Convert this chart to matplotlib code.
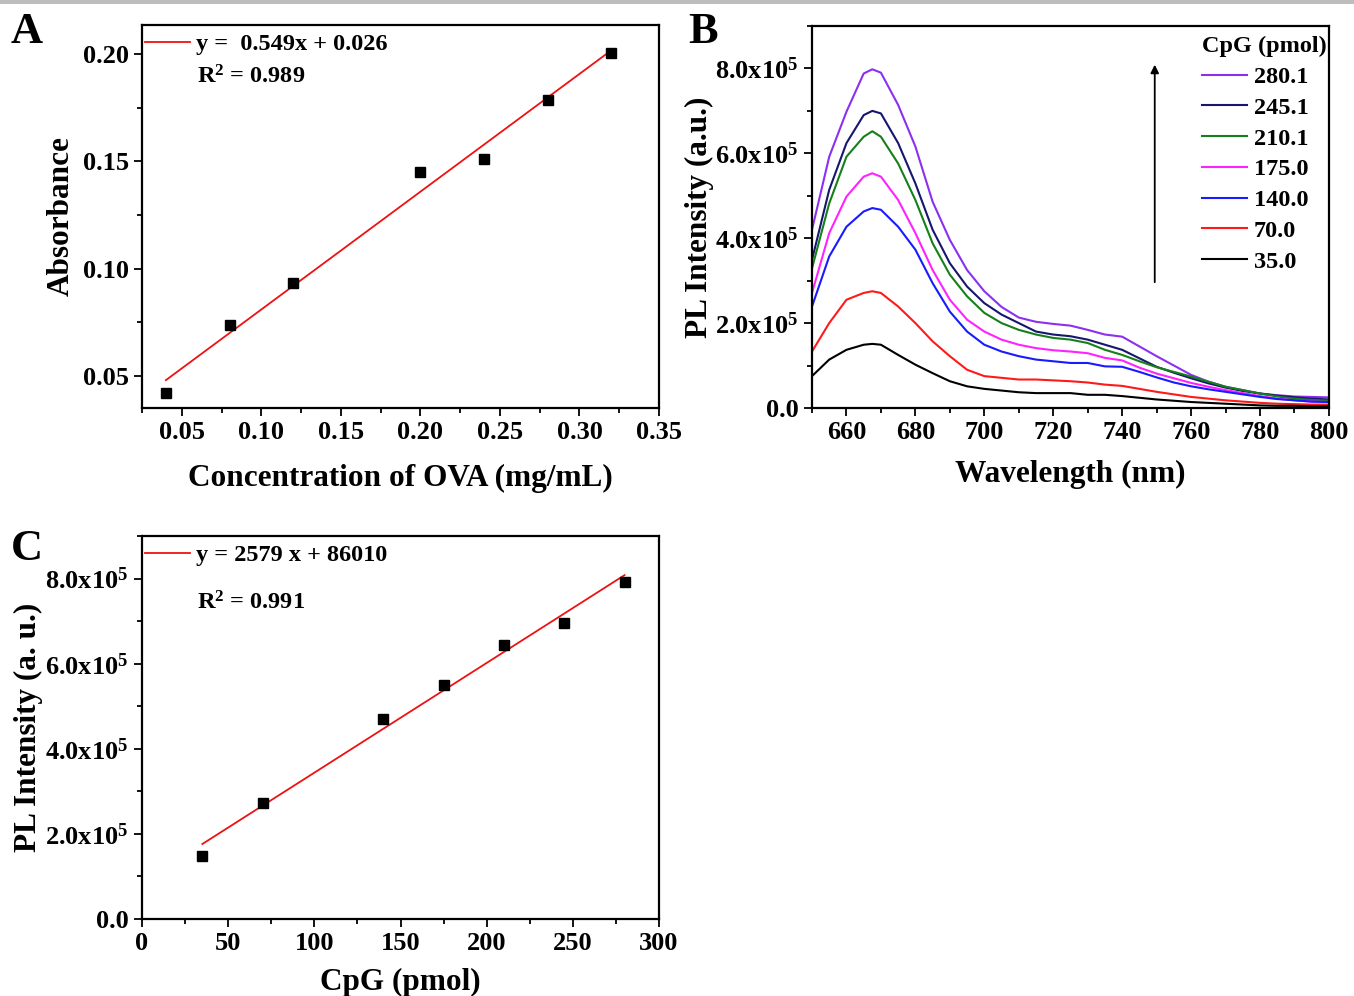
import numpy as np
import matplotlib
matplotlib.use('Agg')
import matplotlib.pyplot as plt
from matplotlib.ticker import MultipleLocator, FuncFormatter
from matplotlib.patches import Rectangle

plt.rcParams['font.family'] = ['Liberation Serif', 'DejaVu Serif']
plt.rcParams['font.weight'] = 'bold'
plt.rcParams['axes.labelweight'] = 'bold'
plt.rcParams['mathtext.fontset'] = 'custom'
plt.rcParams['mathtext.rm'] = 'Liberation Serif:bold'
plt.rcParams['mathtext.it'] = 'Liberation Serif:bold:italic'
plt.rcParams['mathtext.bf'] = 'Liberation Serif:bold'

# ---- A: OVA calibration ----
ova_conc = [0.04, 0.08, 0.12, 0.20, 0.24, 0.28, 0.32]
ova_abs = [0.0419, 0.0736, 0.0933, 0.145, 0.151, 0.1784, 0.2006]
ova_slope, ova_icpt = 0.549, 0.026

# ---- B: PL spectra (x1e5 a.u.) ----
wavelength = [650, 655, 660, 665, 667.5, 670, 675, 680, 685, 690, 695, 700, 705, 710, 715, 720,
              725, 730, 735, 740, 745, 750, 755, 760, 765, 770, 775, 780, 785, 790, 795, 800]
cpg_labels = ['280.1', '245.1', '210.1', '175.0', '140.0', '70.0', '35.0']
cpg_colors = ['#8b30f0', '#16166e', '#15801a', '#ff22ff', '#1a1aff', '#ff1a1a', '#000000']
pl_280 = [4.20, 5.92, 6.98, 7.88, 7.98, 7.90, 7.14, 6.16, 4.86, 3.96, 3.25, 2.75, 2.38, 2.13, 2.03, 1.98,
          1.94, 1.84, 1.73, 1.68, 1.45, 1.22, 1.00, 0.78, 0.62, 0.50, 0.42, 0.34, 0.30, 0.27, 0.26, 0.25]
pl_245 = [3.49, 5.14, 6.24, 6.90, 7.00, 6.94, 6.24, 5.29, 4.20, 3.41, 2.86, 2.47, 2.20, 2.00, 1.80, 1.73,
          1.69, 1.61, 1.49, 1.37, 1.17, 0.97, 0.83, 0.70, 0.58, 0.48, 0.40, 0.34, 0.29, 0.25, 0.22, 0.20]
pl_210 = [3.29, 4.82, 5.92, 6.39, 6.52, 6.39, 5.76, 4.90, 3.88, 3.14, 2.63, 2.24, 2.00, 1.84, 1.73, 1.65,
          1.61, 1.53, 1.37, 1.25, 1.10, 0.96, 0.85, 0.74, 0.62, 0.50, 0.42, 0.34, 0.27, 0.22, 0.19, 0.17]
pl_175 = [2.71, 4.12, 4.98, 5.45, 5.53, 5.45, 4.90, 4.12, 3.25, 2.55, 2.08, 1.80, 1.61, 1.49, 1.41, 1.36,
          1.33, 1.29, 1.18, 1.12, 0.95, 0.81, 0.70, 0.59, 0.50, 0.42, 0.35, 0.28, 0.22, 0.18, 0.15, 0.14]
pl_140 = [2.39, 3.57, 4.27, 4.63, 4.71, 4.67, 4.27, 3.73, 2.94, 2.27, 1.80, 1.49, 1.33, 1.22, 1.14, 1.10,
          1.06, 1.06, 0.98, 0.97, 0.85, 0.72, 0.60, 0.51, 0.44, 0.38, 0.32, 0.26, 0.21, 0.18, 0.15, 0.14]
pl_70 = [1.33, 2.00, 2.55, 2.71, 2.75, 2.71, 2.39, 2.00, 1.57, 1.22, 0.90, 0.75, 0.71, 0.67, 0.67, 0.65,
         0.63, 0.60, 0.55, 0.52, 0.45, 0.38, 0.32, 0.26, 0.22, 0.18, 0.15, 0.12, 0.10, 0.09, 0.08, 0.08]
pl_35 = [0.75, 1.14, 1.37, 1.49, 1.51, 1.49, 1.25, 1.02, 0.82, 0.63, 0.51, 0.45, 0.41, 0.37, 0.35, 0.35,
         0.35, 0.31, 0.31, 0.28, 0.24, 0.20, 0.17, 0.14, 0.12, 0.10, 0.08, 0.06, 0.05, 0.05, 0.04, 0.04]
pl_spectra = [pl_280, pl_245, pl_210, pl_175, pl_140, pl_70, pl_35]

# ---- C: PL peak vs CpG ----
cpg_amount = [35, 70, 140, 175, 210, 245, 280]
pl_peak = [1.476e5, 2.72e5, 4.70e5, 5.51e5, 6.44e5, 6.96e5, 7.92e5]
cpg_slope, cpg_icpt = 2579, 86010

TICK_FS = 19
LABEL_FS = 22.5
LEG_FS = 17.5


def sci_fmt(v, pos):
    if abs(v) < 1e-9:
        return '0.0'
    return '%.1fx10$^5$' % (v / 1e5)


def style_axes(ax):
    for s in ax.spines.values():
        s.set_linewidth(1.6)
    ax.tick_params(which='both', direction='out', top=False, right=False,
                   labelsize=TICK_FS, width=1.3)
    ax.tick_params(which='major', length=6)
    ax.tick_params(which='minor', length=3.5)


fig = plt.figure(figsize=(13.54, 9.96), dpi=100)
fig.add_artist(Rectangle((0, 1 - 4 / 996), 1, 4 / 996, transform=fig.transFigure,
                         color='#bdbdbd', lw=0))

# panel A
axA = fig.add_axes([0.1049, 0.5904, 0.3818, 0.3845])
xa = np.array([ova_conc[0], ova_conc[-1]])
fitA, = axA.plot(xa, ova_slope * xa + ova_icpt, color='#ee1111', lw=1.3)
axA.plot(ova_conc, ova_abs, 's', color='black', ms=7)
axA.set_xlim(0.025, 0.35)
axA.set_ylim(0.035, 0.2135)
axA.xaxis.set_major_locator(MultipleLocator(0.05))
axA.xaxis.set_minor_locator(MultipleLocator(0.025))
axA.yaxis.set_major_locator(MultipleLocator(0.05))
axA.yaxis.set_minor_locator(MultipleLocator(0.025))
axA.xaxis.set_major_formatter(FuncFormatter(lambda v, p: '%.2f' % v))
axA.yaxis.set_major_formatter(FuncFormatter(lambda v, p: '%.2f' % v))
style_axes(axA)
axA.set_xlabel('Concentration of OVA (mg/mL)', fontsize=LABEL_FS, labelpad=14)
axA.set_ylabel('Absorbance', fontsize=LABEL_FS, labelpad=5)
axA.legend([fitA], ['y =  0.549x + 0.026'], loc='center left', frameon=False,
           fontsize=LEG_FS, handlelength=1.85, handletextpad=0.25, borderpad=0,
           borderaxespad=0.0, bbox_to_anchor=(0.005, 0.95))
axA.text(0.107, 0.865, 'R$^2$ = 0.989', transform=axA.transAxes, fontsize=LEG_FS,
         va='center', ha='left')

# panel B
axB = fig.add_axes([0.5997, 0.5904, 0.3818, 0.3835])
lines = []
for vals, lab, col in zip(pl_spectra, cpg_labels, cpg_colors):
    ln, = axB.plot(wavelength, np.array(vals) * 1e5, color=col, lw=1.5, label=lab)
    lines.append(ln)
axB.set_xlim(650, 800)
axB.set_ylim(0, 9e5)
axB.xaxis.set_major_locator(MultipleLocator(20))
axB.xaxis.set_minor_locator(MultipleLocator(10))
axB.yaxis.set_major_locator(MultipleLocator(2e5))
axB.yaxis.set_minor_locator(MultipleLocator(1e5))
axB.yaxis.set_major_formatter(FuncFormatter(sci_fmt))
style_axes(axB)
axB.set_xlabel('Wavelength (nm)', fontsize=LABEL_FS, labelpad=11)
axB.set_ylabel('PL Intensity (a.u.)', fontsize=LABEL_FS, labelpad=1)
legB = axB.legend(handles=lines, title='CpG (pmol)', loc='upper right', frameon=False,
                  fontsize=LEG_FS, title_fontsize=LEG_FS, handlelength=1.85,
                  handletextpad=0.3, labelspacing=0.36, borderpad=0.1,
                  borderaxespad=0.0, bbox_to_anchor=(1.0, 0.98))
legB._legend_box.align = 'left'
axB.annotate('', xy=(0.663, 0.906), xytext=(0.663, 0.322), xycoords='axes fraction',
             arrowprops=dict(arrowstyle='-|>', color='black', lw=1.3,
                             mutation_scale=12))

# panel C
axC = fig.add_axes([0.1049, 0.0773, 0.3818, 0.3845])
xc = np.array([cpg_amount[0], cpg_amount[-1]])
fitC, = axC.plot(xc, cpg_slope * xc + cpg_icpt, color='#ee1111', lw=1.3)
axC.plot(cpg_amount, pl_peak, 's', color='black', ms=7)
axC.set_xlim(0, 300)
axC.set_ylim(0, 9e5)
axC.xaxis.set_major_locator(MultipleLocator(50))
axC.xaxis.set_minor_locator(MultipleLocator(25))
axC.yaxis.set_major_locator(MultipleLocator(2e5))
axC.yaxis.set_minor_locator(MultipleLocator(1e5))
axC.yaxis.set_major_formatter(FuncFormatter(sci_fmt))
style_axes(axC)
axC.set_xlabel('CpG (pmol)', fontsize=LABEL_FS, labelpad=9)
axC.set_ylabel('PL Intensity (a. u.)', fontsize=LABEL_FS, labelpad=2)
axC.legend([fitC], ['y = 2579 x + 86010'], loc='center left', frameon=False,
           fontsize=LEG_FS, handlelength=1.85, handletextpad=0.25, borderpad=0,
           borderaxespad=0.0, bbox_to_anchor=(0.005, 0.95))
axC.text(0.107, 0.826, 'R$^2$ = 0.991', transform=axC.transAxes, fontsize=LEG_FS,
         va='center', ha='left')

# panel letters
fig.text(0.008, 0.968, 'A', fontsize=32, va='center', ha='left')
fig.text(0.508, 0.968, 'B', fontsize=32, va='center', ha='left')
fig.text(0.008, 0.449, 'C', fontsize=32, va='center', ha='left')

fig.savefig('out.png', dpi=100)
